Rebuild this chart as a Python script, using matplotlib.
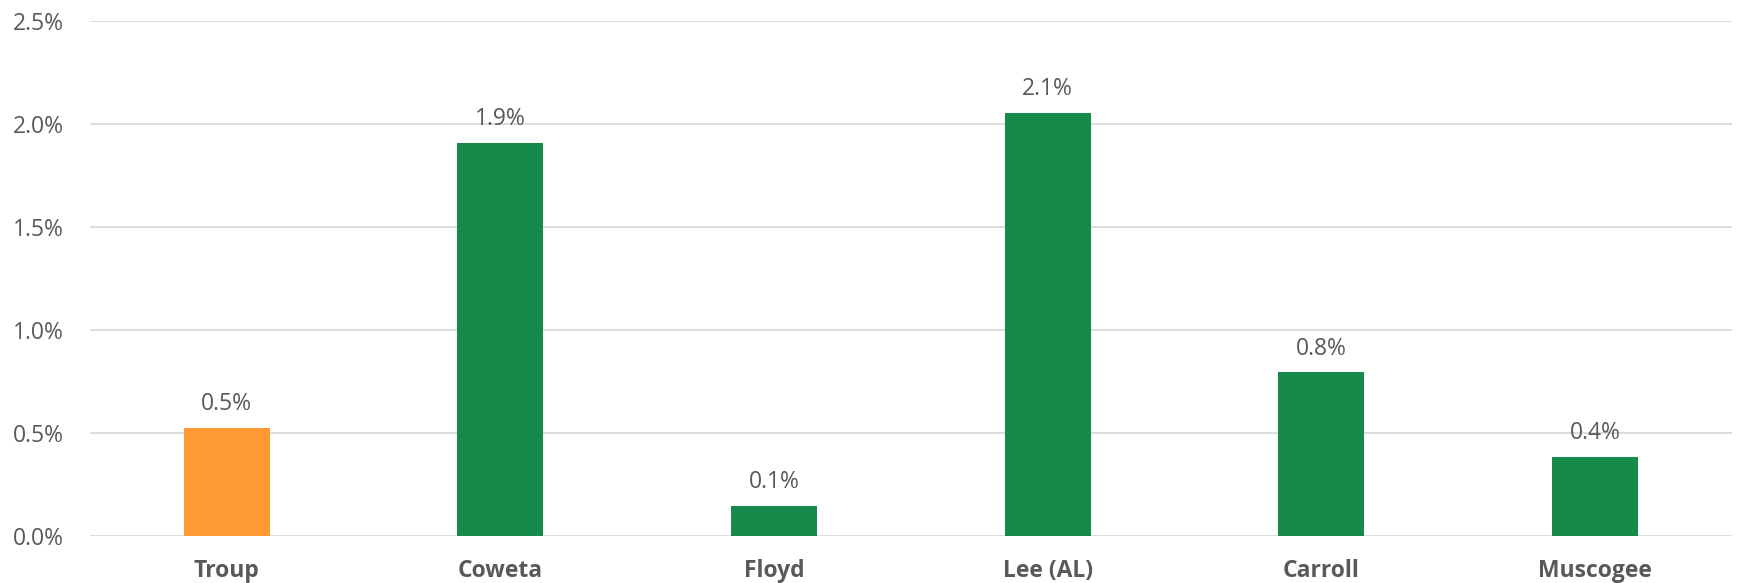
import matplotlib.pyplot as plt
from matplotlib.ticker import FuncFormatter

# =========================================================
# Données
# =========================================================

counties = ["Troup", "Coweta", "Floyd", "Lee (AL)", "Carroll", "Muscogee"]
growth_pct = [0.524, 1.906, 0.144, 2.052, 0.793, 0.383]
value_labels = ["0.5%", "1.9%", "0.1%", "2.1%", "0.8%", "0.4%"]
bar_colors = ["#FF9933", "#158A4A", "#158A4A", "#158A4A", "#158A4A", "#158A4A"]

y_ticks = [0.0, 0.5, 1.0, 1.5, 2.0, 2.5]

# =========================================================
# Graphique
# =========================================================

plt.rcParams["font.family"] = ["Open Sans", "DejaVu Sans"]
TEXT_GREY = "#595959"

fig = plt.figure(figsize=(17.37, 5.83), dpi=100)
ax = fig.add_axes([0.0518, 0.0811, 0.9452, 0.8834])

x = range(len(counties))
bars = ax.bar(x, growth_pct, width=0.314, color=bar_colors, zorder=3)

for bar, lab in zip(bars, value_labels):
    ax.annotate(lab, (bar.get_x() + bar.get_width() / 2, bar.get_height()),
                xytext=(0, 17), textcoords="offset points",
                ha="center", va="center", fontsize=16.5, color=TEXT_GREY)

ax.set_xlim(-0.5, len(counties) - 0.5)
ax.set_ylim(0, 2.5)
ax.set_yticks(y_ticks)
ax.yaxis.set_major_formatter(FuncFormatter(lambda v, p: f"{v:.1f}%"))
ax.set_xticks(list(x))
ax.set_xticklabels(counties, fontweight="bold")

ax.grid(axis="y", color="#D9D9D9", linewidth=1.3, zorder=0)
for s in ax.spines.values():
    s.set_visible(False)
ax.tick_params(axis="both", length=0, colors=TEXT_GREY, labelsize=16.5)
ax.tick_params(axis="y", pad=19)
ax.tick_params(axis="x", pad=17)

fig.savefig("out.png", dpi=100)
